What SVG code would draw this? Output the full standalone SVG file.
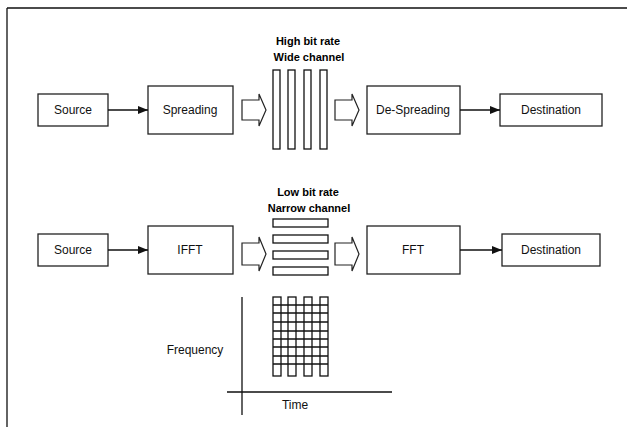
<svg xmlns="http://www.w3.org/2000/svg" width="627" height="427" viewBox="0 0 627 427">
<style>
.box{fill:#fff;stroke:#222;stroke-width:1.3}
.lbl{font-family:"Liberation Sans",Arial,sans-serif;font-size:12px;fill:#111;text-anchor:middle;dominant-baseline:central}
.hdr{font-family:"Liberation Sans",Arial,sans-serif;font-size:11px;font-weight:bold;fill:#000;text-anchor:middle}
.ln{stroke:#111;stroke-width:1.3;fill:none}
.bar{fill:#fff;stroke:#111;stroke-width:1.3}
.harrow{fill:#fff;stroke:#222;stroke-width:1.2}
</style>
<defs>
<marker id="ah" markerWidth="10" markerHeight="8" refX="10" refY="4" orient="auto" markerUnits="userSpaceOnUse">
<path d="M0,0 L10,4 L0,8 Z" fill="#111"/>
</marker>
</defs>
<rect width="627" height="427" fill="#fff"/>
<g id="frame">
<path class="ln" d="M7,8 H627 M7,8 V427"/>
</g>
<g id="labels-top">
<text class="hdr" x="308" y="45">High bit rate</text>
<text class="hdr" x="309" y="61">Wide channel</text>
</g>
<g id="source1"><rect class="box" x="38" y="94" width="70" height="32"/><text class="lbl" x="73" y="110">Source</text></g>
<g id="spreading"><rect class="box" x="148" y="86" width="85" height="48"/><text class="lbl" x="190" y="110">Spreading</text></g>
<g id="wide-channel">
<rect class="bar" x="273" y="70" width="7" height="79"/>
<rect class="bar" x="288" y="70" width="7" height="79"/>
<rect class="bar" x="304" y="70" width="7" height="79"/>
<rect class="bar" x="320" y="70" width="7" height="79"/>
</g>
<g id="despreading"><rect class="box" x="367" y="86" width="93" height="48"/><text class="lbl" x="413" y="110">De-Spreading</text></g>
<g id="destination1"><rect class="box" x="500" y="94" width="102" height="32"/><text class="lbl" x="551" y="110">Destination</text></g>
<g id="labels-bottom">
<text class="hdr" x="308" y="196">Low bit rate</text>
<text class="hdr" x="309" y="212">Narrow channel</text>
</g>
<g id="source2"><rect class="box" x="38" y="234" width="70" height="32"/><text class="lbl" x="73" y="250">Source</text></g>
<g id="ifft"><rect class="box" x="148" y="226" width="85" height="48"/><text class="lbl" x="190" y="250">IFFT</text></g>
<g id="narrow-channel">
<rect class="bar" x="273" y="219" width="55" height="8"/>
<rect class="bar" x="273" y="235" width="55" height="8"/>
<rect class="bar" x="273" y="251" width="55" height="8"/>
<rect class="bar" x="273" y="267" width="55" height="8"/>
</g>
<g id="fft"><rect class="box" x="367" y="226" width="93" height="48"/><text class="lbl" x="413" y="250">FFT</text></g>
<g id="destination2"><rect class="box" x="502" y="234" width="98" height="32"/><text class="lbl" x="551" y="250">Destination</text></g>
<g id="time-frequency-grid">
<rect class="bar" x="273" y="297" width="8" height="79"/>
<rect class="bar" x="288" y="297" width="8" height="79"/>
<rect class="bar" x="304" y="297" width="8" height="79"/>
<rect class="bar" x="320" y="297" width="8" height="79"/>
<path class="ln" d="M273,305 H328 M273,313 H328 M273,322 H328 M273,331 H328 M273,339 H328 M273,347 H328 M273,356 H328 M273,364 H328"/>
</g>
<g id="axes">
<path class="ln" d="M242,297 V415 M227,392 H392"/>
<text class="lbl" x="195" y="350">Frequency</text>
<text class="lbl" x="295" y="405">Time</text>
</g>
<g id="connectors">
<line class="ln" x1="108" y1="110" x2="148" y2="110" marker-end="url(#ah)"/>
<line class="ln" x1="460" y1="110" x2="500" y2="110" marker-end="url(#ah)"/>
<line class="ln" x1="108" y1="250" x2="148" y2="250" marker-end="url(#ah)"/>
<line class="ln" x1="460" y1="250" x2="502" y2="250" marker-end="url(#ah)"/>
<polygon class="harrow" points="242,100 259,100 259,94 266,110 259,126 259,120 242,120"/>
<polygon class="harrow" points="335,100 352,100 352,94 359,110 352,126 352,120 335,120"/>
<polygon class="harrow" points="242,243 259,243 259,237 266,254 259,271 259,265 242,265"/>
<polygon class="harrow" points="335,243 352,243 352,237 359,254 352,271 352,265 335,265"/>
</g>
</svg>
